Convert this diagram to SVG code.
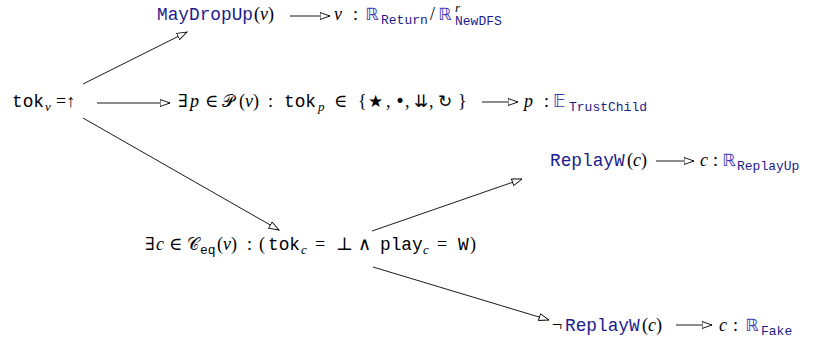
<svg xmlns="http://www.w3.org/2000/svg" width="816" height="360" viewBox="0 0 816 360">
<style>
  text { font-family: "Liberation Serif", "DejaVu Serif", serif; font-size: 18px; fill: #000; }
  .i { font-style: italic; }
  .tt { font-family: "Liberation Mono", "DejaVu Sans Mono", monospace; font-size: 17.8px; }
  .b { fill: #1c1c8c; }
  .bb { font-family: "DejaVu Sans", "Noto Sans", sans-serif; fill: #3a3ab4; font-size: 17px; }
  .sub { font-size: 13px; }
  .cal { font-family: "DejaVu Sans", "Noto Sans", serif; font-size: 17px; }
  .edge { stroke: #000; stroke-width: 0.9; fill: none; marker-end: url(#tri); }
</style>
<defs>
  <marker id="tri" markerUnits="userSpaceOnUse" markerWidth="12" markerHeight="9" refX="10.5" refY="4" orient="auto" viewBox="0 0 12 9">
    <path d="M0.5,0.5 L10.5,4 L0.5,7.5 Z" fill="#fff" stroke="#000" stroke-width="0.9"/>
  </marker>
</defs>
<rect width="816" height="360" fill="#fff"/>

<g id="connectors">
  <line class="edge" x1="83" y1="84" x2="187" y2="32"/>
  <line class="edge" x1="83" y1="118" x2="279" y2="230"/>
  <line class="edge" x1="97" y1="103" x2="170" y2="103"/>
  <line class="edge" x1="290" y1="16" x2="330" y2="16"/>
  <line class="edge" x1="482" y1="102" x2="518" y2="102"/>
  <line class="edge" x1="372" y1="231" x2="522" y2="179"/>
  <line class="edge" x1="373" y1="267" x2="549" y2="320"/>
  <line class="edge" x1="656" y1="161" x2="694" y2="161"/>
  <line class="edge" x1="676" y1="325" x2="712" y2="325"/>
</g>

<g id="n-tokv">
  <text x="12" y="107" class="tt">tok</text>
  <text x="45" y="111" class="i sub">v</text>
  <text x="56" y="107">=↑</text>
</g>

<g id="n-maydropup">
  <text x="157" y="20" class="tt b">MayDropUp</text>
  <text x="254" y="20">(<tspan class="i">v</tspan>)</text>
</g>

<g id="n-maydropup-res">
  <text x="334" y="20" class="i">v</text>
  <text x="353" y="20">:</text>
  <text x="365" y="20" class="bb">ℝ</text>
  <text x="381" y="24" class="tt sub b">Return</text>
  <text x="430" y="20">/</text>
  <text x="438" y="20" class="bb">ℝ</text>
  <text x="455" y="12" class="i sub">r</text>
  <text x="455" y="25" class="tt sub b">NewDFS</text>
</g>

<g id="n-exists-p">
  <text x="178" y="107">∃</text>
  <text x="190" y="107" class="i">p</text>
  <text x="205" y="107">∈</text>
  <text x="222" y="107" class="cal">𝒫</text>
  <text x="239" y="107">(<tspan class="i">v</tspan>)</text>
  <text x="268" y="107">:</text>
  <text x="284" y="107" class="tt">tok</text>
  <text x="318" y="111" class="i sub">p</text>
  <text x="334" y="107">∈</text>
  <text x="358" y="107">{</text>
  <text x="368" y="107" class="cal">★</text>
  <text x="386" y="107">,</text>
  <text x="395" y="107" class="cal">•</text>
  <text x="405" y="107">,</text>
  <text x="414" y="107" class="cal">⇊</text>
  <text x="429" y="107">,</text>
  <text x="438" y="107" class="cal">↻</text>
  <text x="458" y="107">}</text>
</g>

<g id="n-trustchild">
  <text x="524" y="107" class="i">p</text>
  <text x="544" y="107">:</text>
  <text x="553" y="107" class="bb">𝔼</text>
  <text x="569" y="111" class="tt sub b">TrustChild</text>
</g>

<g id="n-exists-c">
  <text x="145" y="250">∃</text>
  <text x="156" y="250" class="i">c</text>
  <text x="169" y="250">∈</text>
  <text x="187" y="250" class="cal">𝒞</text>
  <text x="200" y="254" class="tt sub">eq</text>
  <text x="217" y="250">(<tspan class="i">v</tspan>)</text>
  <text x="247" y="250">:</text>
  <text x="259" y="250">(</text>
  <text x="268" y="250" class="tt">tok</text>
  <text x="301" y="254" class="i sub">c</text>
  <text x="315" y="250">=</text>
  <text x="336" y="250">⊥</text>
  <text x="358" y="250">∧</text>
  <text x="380" y="250" class="tt">play</text>
  <text x="423" y="254" class="i sub">c</text>
  <text x="437" y="250">=</text>
  <text x="458" y="250" class="tt">W</text>
  <text x="470" y="250">)</text>
</g>

<g id="n-replayw">
  <text x="550" y="166" class="tt b">ReplayW</text>
  <text x="627" y="166">(<tspan class="i">c</tspan>)</text>
</g>

<g id="n-replayup">
  <text x="700" y="166" class="i">c</text>
  <text x="713" y="166">:</text>
  <text x="722" y="166" class="bb">ℝ</text>
  <text x="737" y="170" class="tt sub b">ReplayUp</text>
</g>

<g id="n-not-replayw">
  <text x="552" y="331">¬</text>
  <text x="565" y="331" class="tt b">ReplayW</text>
  <text x="642" y="331">(<tspan class="i">c</tspan>)</text>
</g>

<g id="n-fake">
  <text x="719" y="331" class="i">c</text>
  <text x="733" y="331">:</text>
  <text x="745" y="331" class="bb">ℝ</text>
  <text x="761" y="335" class="tt sub b">Fake</text>
</g>
</svg>
